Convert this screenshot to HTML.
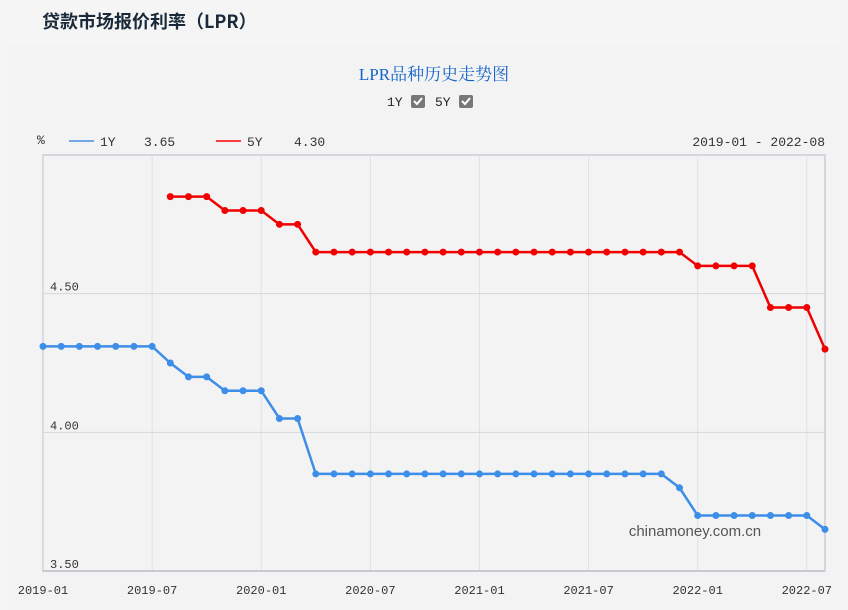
<!DOCTYPE html>
<html><head><meta charset="utf-8">
<style>
body{margin:0;width:848px;height:610px;background:#f5f5f5;overflow:hidden;font-family:"Liberation Sans","Noto Sans CJK SC",sans-serif;}
.title{position:absolute;left:42px;top:8px;font-size:18px;font-weight:bold;color:#1a2a3a;font-family:"Noto Sans CJK SC","Liberation Sans",sans-serif;}
.panel{position:absolute;left:8px;top:46px;width:832px;height:564px;background:#f3f3f3;}
</style></head><body>
<div class="title">贷款市场报价利率（LPR）</div>
<div class="panel"></div>
<svg id="chart" width="848" height="610" style="position:absolute;left:0;top:0">
<text x="434" y="80" text-anchor="middle" font-size="17" fill="#1565c8" font-family="Liberation Serif, Noto Serif CJK SC, serif">LPR品种历史走势图</text>
<g font-family="Liberation Mono, monospace" font-size="13" fill="#222">
<text x="387" y="106">1Y</text>
<rect x="411" y="95" width="14" height="13" rx="2" fill="#777"/>
<path d="M414 101 l3 3 l5 -6" stroke="#fff" stroke-width="2" fill="none"/>
<text x="435" y="106">5Y</text>
<rect x="459" y="95" width="14" height="13" rx="2" fill="#777"/>
<path d="M462 101 l3 3 l5 -6" stroke="#fff" stroke-width="2" fill="none"/>
</g>
<g font-family="Liberation Mono, monospace" font-size="13" fill="#333">
<text x="37" y="144">%</text>
<line x1="69" y1="141" x2="94" y2="141" stroke="#4a90e2" stroke-width="1.5"/>
<text x="100" y="146">1Y</text>
<text x="144" y="146">3.65</text>
<line x1="216" y1="141" x2="241" y2="141" stroke="#f00" stroke-width="1.5"/>
<text x="247" y="146">5Y</text>
<text x="294" y="146">4.30</text>
<text x="825" y="146" text-anchor="end">2019-01 - 2022-08</text>
</g>
<g id="grid"></g><g id="series"></g>
</svg>
<script>
const months=["2019-01","2019-02","2019-03","2019-04","2019-05","2019-06","2019-07","2019-08","2019-09","2019-10","2019-11","2019-12","2020-01","2020-02","2020-03","2020-04","2020-05","2020-06","2020-07","2020-08","2020-09","2020-10","2020-11","2020-12","2021-01","2021-02","2021-03","2021-04","2021-05","2021-06","2021-07","2021-08","2021-09","2021-10","2021-11","2021-12","2022-01","2022-02","2022-03","2022-04","2022-05","2022-06","2022-07","2022-08"];
const rate1Y=[4.31,4.31,4.31,4.31,4.31,4.31,4.31,4.25,4.20,4.20,4.15,4.15,4.15,4.05,4.05,3.85,3.85,3.85,3.85,3.85,3.85,3.85,3.85,3.85,3.85,3.85,3.85,3.85,3.85,3.85,3.85,3.85,3.85,3.85,3.85,3.80,3.70,3.70,3.70,3.70,3.70,3.70,3.70,3.65];
const rate5Y=[null,null,null,null,null,null,null,4.85,4.85,4.85,4.80,4.80,4.80,4.75,4.75,4.65,4.65,4.65,4.65,4.65,4.65,4.65,4.65,4.65,4.65,4.65,4.65,4.65,4.65,4.65,4.65,4.65,4.65,4.65,4.65,4.65,4.60,4.60,4.60,4.60,4.45,4.45,4.45,4.30];
const xTicks=["2019-01","2019-07","2020-01","2020-07","2021-01","2021-07","2022-01","2022-07"];
const yTicks=[3.5,4.0,4.5];
const X0=43,X1=825,Y0=571,Y1=155,YMIN=3.5,YMAX=5.0;
const x=i=>X0+(X1-X0)*i/(months.length-1);
const y=v=>Y0-(Y0-Y1)*(v-YMIN)/(YMAX-YMIN);
const NS="http://www.w3.org/2000/svg";
function mk(t,a,p){const e=document.createElementNS(NS,t);for(const k in a)e.setAttribute(k,a[k]);p.appendChild(e);return e;}
const g=document.getElementById('grid');
let fr=mk('rect',{x:X0,y:Y1,width:X1-X0,height:Y0-Y1,fill:'none',stroke:'#d4d6de','stroke-width':2},g);


xTicks.forEach(t=>{const i=months.indexOf(t);
 const l=mk('line',{x1:x(i),x2:x(i),y1:Y1,y2:Y0,stroke:'#dde0e8','stroke-width':1},g);
 
 
 const tx=mk('text',{x:x(i),y:594,'text-anchor':'middle','font-size':12,'font-family':'Liberation Mono, monospace',fill:'#333'},g);
 tx.textContent=t;
 
 
});
yTicks.forEach(v=>{
 if(v>YMIN){const l=mk('line',{x1:X0,x2:X1,y1:y(v),y2:y(v),stroke:'#d4d6de','stroke-width':1},g);
 
 }
 const tx=mk('text',{x:50,y:y(v)-3,'font-size':12,'font-family':'Liberation Mono, monospace',fill:'#333'},g);
 tx.textContent=v.toFixed(2);
 
 
});
mk('line',{x1:X0,x2:X1,y1:Y0,y2:Y0,stroke:'#c8cad2','stroke-width':2},g);
const wm=mk('text',{x:695,y:536,'text-anchor':'middle','font-size':15,fill:'#555'},g);
wm.textContent='chinamoney.com.cn';


const s=document.getElementById('series');
function draw(vals,color,name){
 const pts=[];vals.forEach((v,i)=>{if(v!=null)pts.push([x(i),y(v)]);});
 const p=mk('polyline',{points:pts.map(p=>p.join(',')).join(' '),fill:'none',stroke:color,'stroke-width':2.5},s);
 
 
 pts.forEach(q=>{const c=mk('circle',{cx:q[0],cy:q[1],r:3.5,fill:color},s);
  
  });
}
draw(rate1Y,'#3d8ee8','series-1y');
draw(rate5Y,'#f00000','series-5y');
</script>
</body></html>
